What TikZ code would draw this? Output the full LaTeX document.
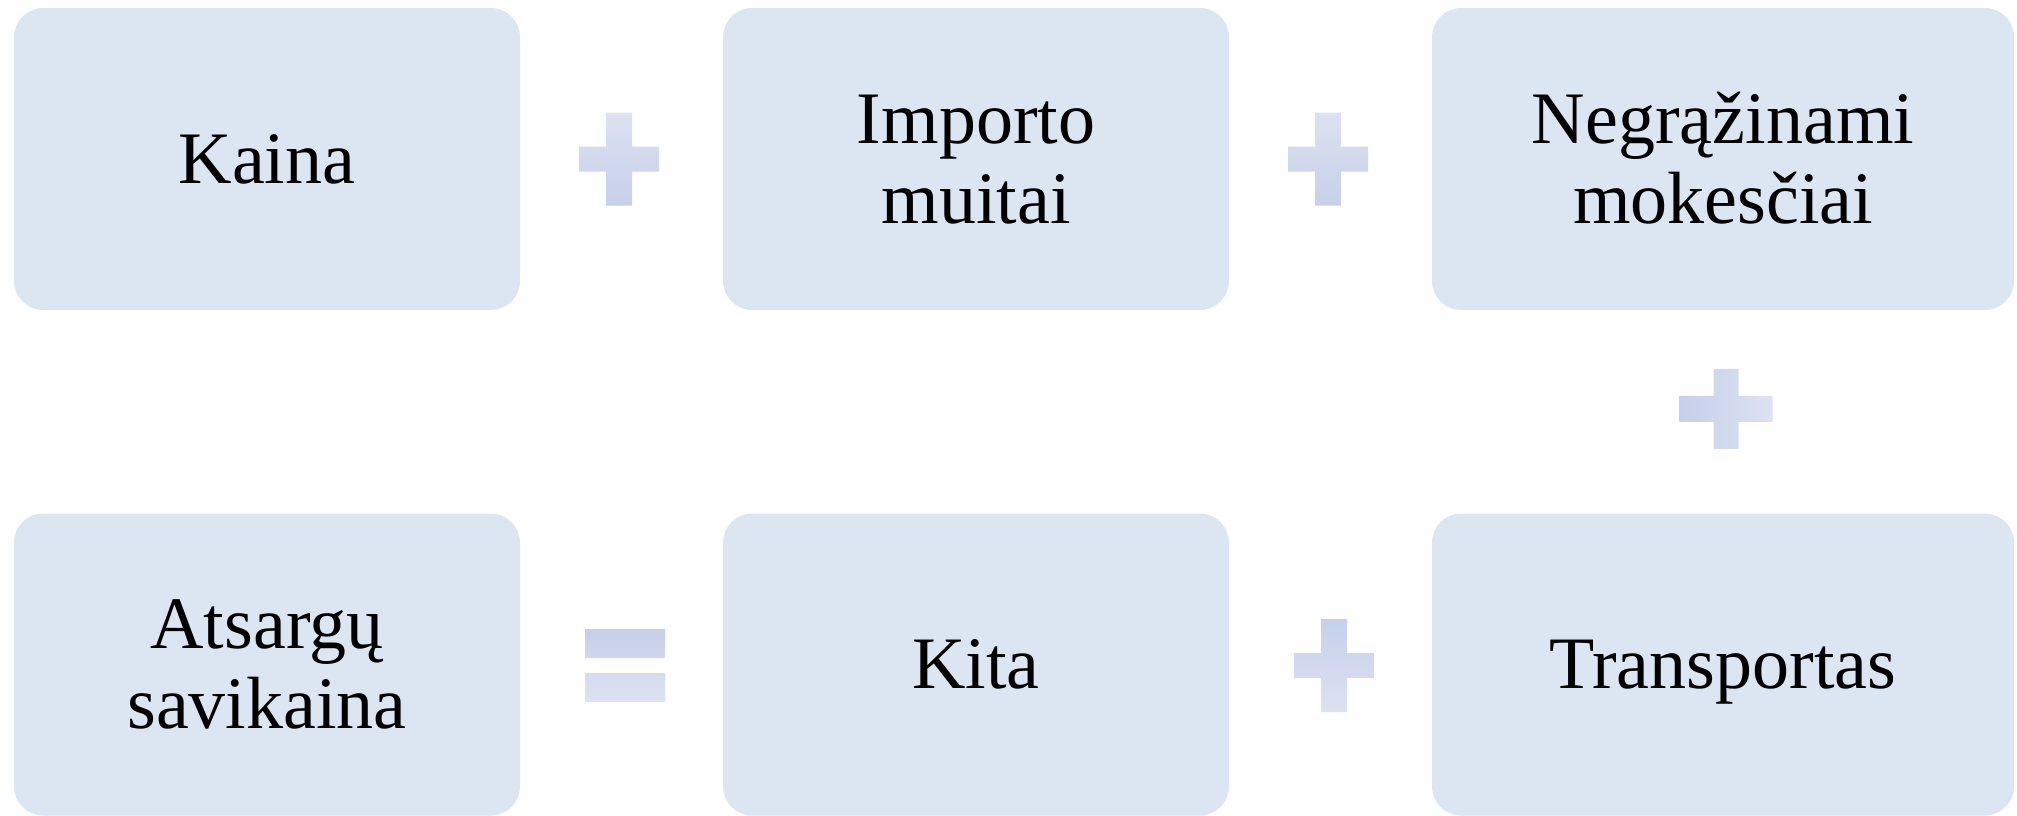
\documentclass[tikz,border=0pt]{standalone}
\usepackage{fontspec}
\setmainfont{Liberation Serif}
\usetikzlibrary{calc}
\definecolor{boxblue}{RGB}{220,230,242}
\definecolor{opdark}{RGB}{198,208,233}
\definecolor{oplight}{RGB}{221,226,242}
\newcommand{\tstrt}{\rule{0pt}{36pt}}
\newcommand{\bstrt}{\rule[-12pt]{0pt}{12pt}}
\tikzset{
  box/.style={fill=boxblue, rounded corners=14.5pt, minimum width=253pt, minimum height=151pt,
    inner sep=0pt, outer sep=0pt, align=center, text=black,
    font={\fontsize{37pt}{40pt}\selectfont}},
  widebox/.style={box, minimum width=291pt},
  plussym/.pic={\path[pic actions] (-13,-46.5) -- (13,-46.5) -- (13,-12.5) -- (40,-12.5) -- (40,12.5)
      -- (13,12.5) -- (13,46.5) -- (-13,46.5) -- (-13,12.5) -- (-40,12.5) -- (-40,-12.5) -- (-13,-12.5) -- cycle;},
  equalsym/.pic={\path[pic actions] (-40,-36.5) rectangle (40,-7.5) (-40,7.5) rectangle (40,36.5);}
}
\begin{document}
\begin{tikzpicture}[x=0.5pt,y=-0.5pt]
\useasboundingbox (0,0) rectangle (2017,815);
\node[box] (kaina) at (267,159) {\tstrt Kaina\bstrt};
\node[box] (importo) at (976,159) {\tstrt Importo\\muitai\bstrt};
\node[widebox] (negraz) at (1723,159) {\tstrt Negrąžinami\\mokesčiai\bstrt};
\node[box] (atsargu) at (267,664.5) {\tstrt Atsargų\\savikaina\bstrt};
\node[box] (kita) at (976,664.5) {\tstrt Kita\bstrt};
\node[widebox] (transp) at (1723,664.5) {\tstrt Transportas\bstrt};

\coordinate (p1) at ($($(kaina.east)!0.5!(importo.west)$)+(-2.5,0)$);
\coordinate (p2) at ($($(importo.east)!0.5!(negraz.west)$)+(-2.5,0)$);
\coordinate (p3) at ($($(negraz.south)!0.5!(transp.north)$)+(3,-3)$);
\coordinate (p4) at ($($(kita.east)!0.5!(transp.west)$)+(3.5,1)$);
\coordinate (p5) at ($($(atsargu.east)!0.5!(kita.west)$)+(3.5,1)$);

\pic[top color=oplight, bottom color=opdark] at (p1) {plussym};
\pic[top color=oplight, bottom color=opdark] at (p2) {plussym};
\pic[rotate=90, left color=opdark, right color=oplight] at (p3) {plussym};
\pic[top color=opdark, bottom color=oplight] at (p4) {plussym};
\pic[top color=opdark, bottom color=oplight] at (p5) {equalsym};
\end{tikzpicture}
\end{document}
